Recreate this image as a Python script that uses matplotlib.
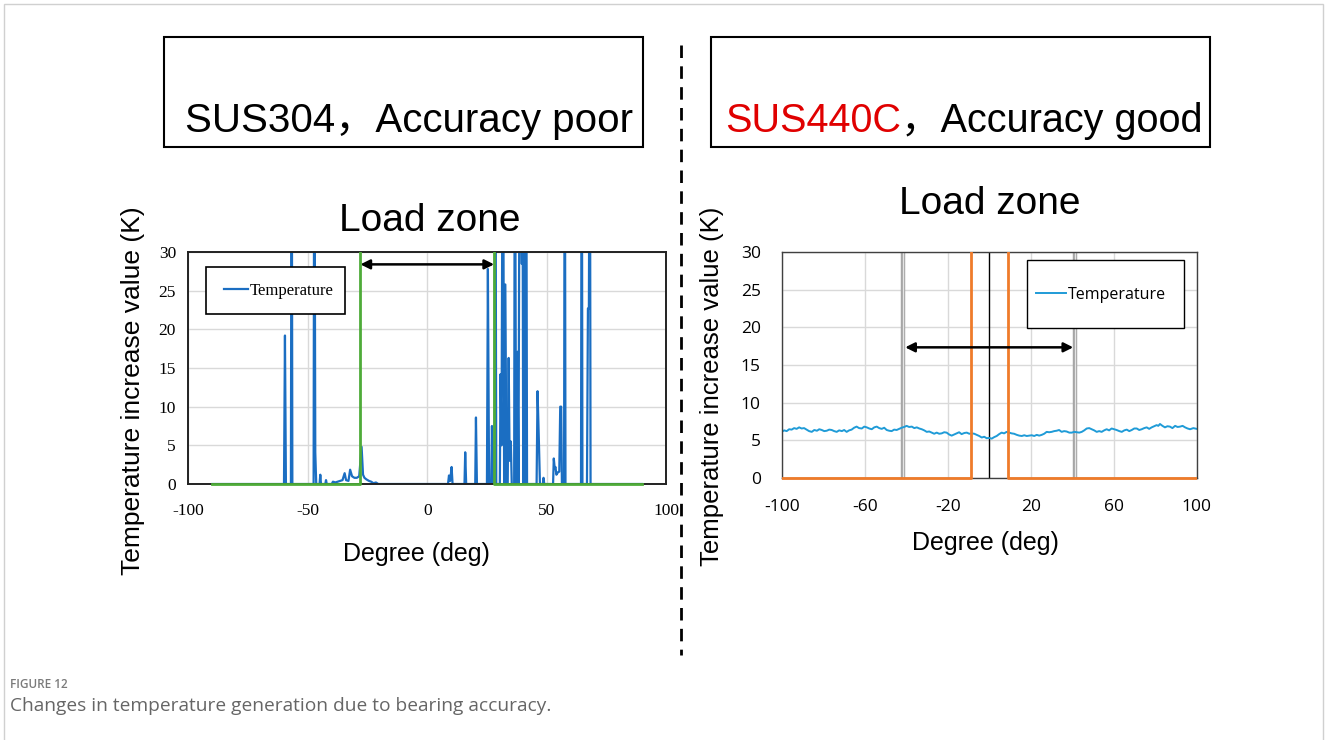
import matplotlib.pyplot as plt
from matplotlib.patches import Rectangle
from matplotlib.lines import Line2D
from matplotlib.transforms import Bbox, TransformedBbox

plt.rcParams['font.family'] = ['Liberation Sans', 'Noto Sans CJK JP', 'DejaVu Sans']
plt.rcParams['axes.unicode_minus'] = False

# ---- left panel: SUS304, accuracy poor ----
deg_poor = [-90, -60.0, -59.6, -59.2, -57.1, -56.8, -56.5, -47.6, -47.3, -46.9, -46.5,
            -45.1, -44.8, -44.5, -42.7, -42.4, -42.1, -40.0, -39.5, -38.5, -37.5, -36.5,
            -35.5, -34.6, -34.0, -33.0, -32.3, -31.5, -30.5, -29.5, -28.5, -27.5, -26.9,
            -26.3, -25.5, -24.4, -23.5, -22.5, -21.5, -20.5,
            8.7, 9.1, 9.6, 10.2, 10.6, 15.6, 15.9, 16.3, 20.1, 20.4, 20.8, 25.0, 25.4,
            25.9, 26.8, 27.1, 27.5, 28.2, 28.5, 28.9, 30.4, 30.7, 31.1, 31.7, 32.2, 32.7,
            33.2, 33.7, 34.1, 34.5, 35.0, 35.4, 36.4, 36.7, 37.2, 37.8, 38.2, 38.8, 39.5,
            39.8, 40.2, 40.6, 41.0, 41.4, 41.8, 45.8, 46.2, 46.8, 47.2, 48.4, 48.7, 49.0,
            52.7, 53.0, 53.4, 53.7, 54.1, 54.7, 55.3, 55.7, 56.1, 56.4, 57.3, 57.6, 57.9,
            64.4, 64.7, 65.0, 66.9, 67.3, 67.7, 68.1, 68.4, 90]
temp_poor = [0, 0, 19.2, 0, 0, 60, 0, 0, 60, 4.1, 0,
             0, 1.2, 0, 0, 0.5, 0, 0, 0.3, 0.2, 0.3, 0.4,
             0.5, 1.4, 0.5, 0.4, 1.85, 1.0, 0.8, 0.8, 1.0, 4.8, 1.2,
             0.8, 0.6, 0.4, 0.3, 0.1, 0.2, 0,
             0, 1.1, 0.4, 2.2, 0, 0, 4.1, 0, 0, 8.6, 0, 0, 27.8,
             0, 0, 7.5, 0, 0, 60, 0, 0, 14.2, 5.0, 60, 0, 25.8,
             0, 0, 16.3, 3.0, 5.5, 0, 0, 60, 0, 17.1, 0, 60, 28.5,
             60, 0, 60, 0, 60, 0, 0, 12.0, 5.0, 0, 0, 0.8, 0,
             0, 3.3, 2.0, 2.2, 1.2, 1.5, 1.6, 10.0, 10.0, 0, 0, 60, 0,
             0, 60, 0, 0, 22.7, 22.7, 60, 0, 0]
green_deg = [-90, -28, -28, 28, 28, 90]
green_val = [0, 0, 40, 40, 0, 0]
arrow_poor = (-28, 28, 28.4)

# ---- right panel: SUS440C, accuracy good ----
deg_good = [-100, -98.8, -97.6, -96.4, -95.2, -94.0, -92.8, -91.6, -90.4, -89.2,
            -88.0, -86.8, -85.5, -84.3, -83.0, -81.9, -80.7, -79.5, -78.3, -77.1,
            -75.9, -74.7, -73.5, -72.3, -71.0, -69.9, -68.7, -67.5, -66.3, -65.1,
            -63.9, -62.7, -61.4, -60.2, -59.0, -57.8, -56.6, -55.4, -54.2, -53.0,
            -51.8, -50.6, -49.4, -48.2, -47.0, -45.8, -44.6, -43.4, -42.2, -41.0,
            -39.8, -38.6, -37.3, -36.1, -34.9, -33.7, -32.5, -31.3, -30.1, -28.9,
            -27.7, -26.5, -25.3, -24.1, -22.9, -21.7, -20.5, -19.3, -18.1, -16.9,
            -15.7, -14.5, -13.3, -12.0, -10.8, -9.6, -8.4, -7.2, -6.0, -4.8,
            -3.6, -2.4, -1.2, 0.0, 1.2, 2.4, 3.6, 4.8, 6.0, 7.2,
            8.4, 9.6, 10.8, 12.0, 13.3, 14.5, 15.7, 16.9, 18.1, 19.3,
            20.5, 21.7, 22.9, 24.1, 25.3, 26.5, 27.7, 28.9, 30.1, 31.3,
            32.5, 33.7, 34.9, 36.1, 37.3, 38.6, 39.8, 41.0, 42.2, 43.4,
            44.6, 45.8, 47.0, 48.2, 49.4, 50.6, 51.8, 53.0, 54.2, 55.4,
            56.6, 57.8, 59.0, 60.2, 61.4, 62.7, 63.9, 65.1, 66.3, 67.5,
            68.7, 69.9, 71.1, 72.3, 73.5, 74.7, 75.9, 77.1, 78.3, 79.5,
            80.7, 81.5, 82.3, 83.5, 84.7, 85.9, 87.1, 88.3, 89.6, 90.8,
            92.0, 93.2, 94.4, 95.6, 96.8, 98.4, 100]
temp_good = [6.1, 6.3, 6.2, 6.45, 6.4, 6.6, 6.5, 6.7, 6.55, 6.6,
             6.4, 6.2, 6.1, 6.35, 6.25, 6.45, 6.35, 6.2, 6.25, 6.4,
             6.35, 6.2, 6.1, 6.3, 6.2, 6.35, 6.1, 6.3, 6.4, 6.65,
             6.8, 6.6, 6.55, 6.8, 6.7, 6.55, 6.45, 6.7, 6.8, 6.6,
             6.5, 6.65, 6.35, 6.25, 6.2, 6.4, 6.35, 6.5, 6.65, 6.75,
             6.9, 6.75, 6.8, 6.6, 6.7, 6.55, 6.45, 6.3, 6.1, 6.15,
             6.0, 5.85, 6.0, 5.85, 5.9, 6.05, 6.0, 5.75, 5.6, 5.75,
             5.9, 6.05, 5.8, 5.95, 6.0, 5.85, 5.9, 5.85, 5.7, 5.55,
             5.35, 5.45, 5.25, 5.3, 5.2, 5.4, 5.55, 5.8, 6.0, 5.9,
             6.1, 6.0, 5.9, 5.85, 5.7, 5.6, 5.55, 5.65, 5.55, 5.6,
             5.65, 5.55, 5.7, 5.6, 5.7, 5.85, 6.1, 6.05, 6.1, 6.2,
             6.25, 6.35, 6.1, 6.2, 6.15, 6.0, 6.0, 6.1, 6.05, 6.0,
             6.1, 6.3, 6.55, 6.6, 6.45, 6.3, 6.1, 6.2, 6.1, 6.3,
             6.45, 6.3, 6.55, 6.45, 6.35, 6.2, 6.1, 6.3, 6.4, 6.2,
             6.35, 6.55, 6.55, 6.35, 6.45, 6.6, 6.7, 6.5, 6.7, 6.85,
             7.0, 6.9, 7.15, 6.9, 6.7, 6.85, 6.8, 6.6, 6.9, 6.75,
             6.8, 6.9, 6.7, 6.55, 6.45, 6.6, 6.5]
orange_deg = [-100, -8.6, -8.6, 9.2, 9.2, 100]
orange_val = [0, 0, 40, 40, 0, 0]
grey_zone = [-41.4, 41.4]
center_deg = 0
arrow_good = (-40.5, 40.5, 17.35)

W, H = 1328, 740


def fx(px):
    return px / W


def fy(py):
    return 1 - py / H


def clip_keep_base(line, ax):
    # clip at the top of the plot, but let the line at y=0 show in full
    line.set_clip_box(TransformedBbox(Bbox.from_extents(-100, -3, 100, 30), ax.transData))


fig = plt.figure(figsize=(W / 100, H / 100), dpi=100)

# outer frame
fig.add_artist(Rectangle((fx(4), fy(745)), fx(1323) - fx(4), fy(4) - fy(745),
                         transform=fig.transFigure, fill=False, ec='#d0d0d0', lw=1))

# ---------- left chart ----------
ax1 = fig.add_axes([fx(188.5), fy(484), (666 - 188.5) / W, (484 - 252) / H])
ax1.plot(deg_poor, temp_poor, color='#1b6ec2', lw=1.6, label='Temperature')
g_line, = ax1.plot(green_deg, green_val, color='#4eab39', lw=2.0, zorder=3)
clip_keep_base(g_line, ax1)
ax1.set_xlim(-100, 100)
ax1.set_ylim(0, 30)
ax1.set_xticks([-100, -50, 0, 50, 100])
ax1.set_yticks(range(0, 31, 5))
ax1.grid(color='#d9d9d9', lw=1)
ax1.set_axisbelow(True)
ax1.tick_params(length=0, labelsize=12.5, labelfontfamily='Liberation Serif')
ax1.tick_params(axis='x', pad=14)
ax1.tick_params(axis='y', pad=9)
for s in ax1.spines.values():
    s.set_color('#222222')
    s.set_linewidth(1.4)
ax1.annotate('', xy=(arrow_poor[1], arrow_poor[2]), xytext=(arrow_poor[0], arrow_poor[2]),
             arrowprops=dict(arrowstyle='<|-|>', color='black', lw=1.8, mutation_scale=14,
                             shrinkA=0, shrinkB=0))
ax1.add_patch(Rectangle((0.0362, 0.733), 0.2924, 0.204, transform=ax1.transAxes,
                        facecolor='white', edgecolor='black', lw=1.2, zorder=4))
ax1.legend(loc='center left', bbox_to_anchor=(0.0737, 0.832), frameon=False,
           prop={'family': 'Liberation Serif', 'size': 12}, handlelength=1.45,
           handletextpad=0.1, borderpad=0, borderaxespad=0)

# ---------- right chart ----------
ax2 = fig.add_axes([fx(781.7), fy(477.7), (1196.7 - 781.7) / W, (477.7 - 252.3) / H])
for g in grey_zone:
    ax2.axvline(g, color='#a6a6a6', lw=3.2, zorder=2.1)
    ax2.axvline(g, color='#e4e4e4', lw=0.9, zorder=2.2)
ax2.axvline(center_deg, color='black', lw=1.0, zorder=2.3)
o_line, = ax2.plot(orange_deg, orange_val, color='#ef7b2a', lw=2.0, zorder=3)
clip_keep_base(o_line, ax2)
ax2.plot(deg_good, temp_good, color='#1f9bd7', lw=1.4, label='Temperature', zorder=2.5)
ax2.set_xlim(-100, 100)
ax2.set_ylim(0, 30)
ax2.set_xticks(range(-100, 101, 40))
ax2.set_yticks(range(0, 31, 5))
ax2.grid(color='#d9d9d9', lw=1)
ax2.set_axisbelow(True)
ax2.tick_params(length=0, labelsize=12.5, labelfontfamily='Open Sans')
ax2.tick_params(axis='x', pad=15)
ax2.tick_params(axis='y', pad=15)
for s in ax2.spines.values():
    s.set_color('#404040')
    s.set_linewidth(1.0)
ax2.annotate('', xy=(arrow_good[1], arrow_good[2]), xytext=(arrow_good[0], arrow_good[2]),
             arrowprops=dict(arrowstyle='<|-|>', color='black', lw=1.8, mutation_scale=14,
                             shrinkA=0, shrinkB=0))
ax2.add_patch(Rectangle((0.590, 0.665), 0.379, 0.301, transform=ax2.transAxes,
                        facecolor='white', edgecolor='black', lw=1.0, zorder=4))
ax2.legend(loc='center left', bbox_to_anchor=(0.613, 0.8106), frameon=False,
           prop={'family': 'Open Sans', 'size': 11.5}, handlelength=1.9,
           handletextpad=0.1, borderpad=0, borderaxespad=0)

# ---------- titles / boxes ----------
for x0, x1 in [(164, 643), (711, 1210)]:
    fig.add_artist(Rectangle((fx(x0), fy(146.5)), fx(x1) - fx(x0), fy(37) - fy(146.5),
                             transform=fig.transFigure, fill=False, ec='black', lw=1.5))
fig.text(fx(185), fy(131.7), 'SUS304\uff0cAccuracy poor', fontsize=29, va='baseline')
red = fig.text(fx(725), fy(131.7), 'SUS440C', fontsize=28.5, va='baseline', color='#e00000')
bb = red.get_window_extent(fig.canvas.get_renderer())
fig.text(bb.x1 / fig.bbox.width, fy(131.7), '\uff0cAccuracy good', fontsize=28.5,
         va='baseline')

fig.text(fx(430), fy(230.7), 'Load zone', fontsize=28, ha='center', va='baseline')
fig.text(fx(990), fy(214.5), 'Load zone', fontsize=28, ha='center', va='baseline')

fig.text(fx(416.7), fy(561), 'Degree (deg)', fontsize=18, ha='center', va='baseline')
fig.text(fx(985), fy(550), 'Degree (deg)', fontsize=18, ha='center', va='baseline')
fig.text(fx(133), fy(391), 'Temperature increase value (K)', fontsize=19,
         rotation=90, ha='center', va='center')
fig.text(fx(712), fy(386), 'Temperature increase value (K)', fontsize=18.5,
         rotation=90, ha='center', va='center')

# divider
fig.add_artist(Line2D([fx(681), fx(681)], [fy(45), fy(655)], transform=fig.transFigure,
                      color='black', lw=2, dashes=(4.5, 3)))

# caption
fig.text(fx(10), fy(685), 'FIGURE 12', fontsize=8.5, color='#7a7a7a', fontweight='semibold',
         family='Open Sans', va='center')
fig.text(fx(10), fy(706), 'Changes in temperature generation due to bearing accuracy.',
         fontsize=13.8, color='#666666', family='Open Sans', va='center')

fig.savefig('out.png', dpi=100)
